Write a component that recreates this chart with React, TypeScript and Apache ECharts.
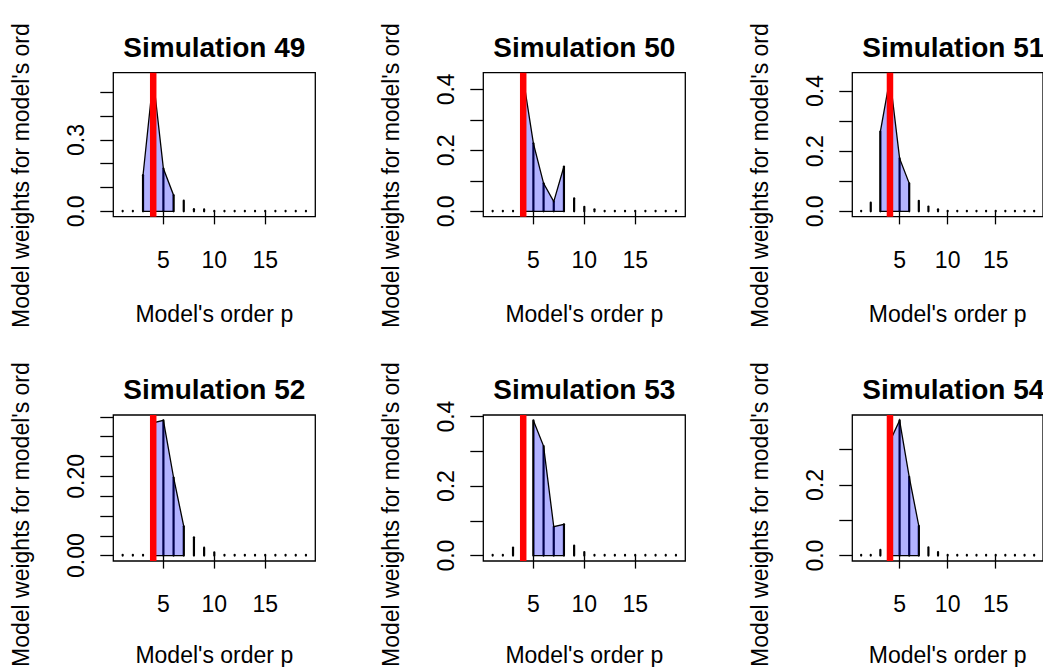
import React, { useEffect, useRef } from "react";
import * as echarts from "echarts";

// ---------- data ----------
const orders = [1, 2, 3, 4, 5, 6, 7, 8, 9, 10, 11, 12, 13, 14, 15, 16, 17, 18, 19];

const titles = [
  "Simulation 49",
  "Simulation 50",
  "Simulation 51",
  "Simulation 52",
  "Simulation 53",
  "Simulation 54",
];

const weights49 = [0.002, 0.002, 0.152, 0.56, 0.18, 0.068, 0.045, 0.009, 0.008, 0.002, 0.002, 0.002, 0.002, 0.002, 0.002, 0.002, 0.002, 0.002, 0.002];
const weights50 = [0.002, 0.002, 0.002, 0.437, 0.223, 0.092, 0.032, 0.147, 0.043, 0.015, 0.007, 0.002, 0.002, 0.002, 0.002, 0.002, 0.002, 0.002, 0.002];
const weights51 = [0.002, 0.029, 0.265, 0.443, 0.176, 0.093, 0.035, 0.016, 0.007, 0.002, 0.002, 0.002, 0.002, 0.002, 0.002, 0.002, 0.002, 0.002, 0.002];
const weights52 = [0.002, 0.002, 0.002, 0.335, 0.341, 0.197, 0.074, 0.046, 0.02, 0.008, 0.002, 0.002, 0.002, 0.002, 0.002, 0.002, 0.002, 0.002, 0.002];
const weights53 = [0.002, 0.002, 0.023, 0.002, 0.389, 0.315, 0.083, 0.09, 0.029, 0.01, 0.002, 0.002, 0.002, 0.002, 0.002, 0.002, 0.002, 0.002, 0.002];
const weights54 = [0.002, 0.002, 0.016, 0.324, 0.383, 0.223, 0.084, 0.023, 0.01, 0.002, 0.002, 0.002, 0.002, 0.002, 0.002, 0.002, 0.002, 0.002, 0.002];

// credible set of orders (filled polygon)
const sets = [
  [3, 6],
  [4, 8],
  [3, 6],
  [4, 7],
  [5, 8],
  [4, 7],
];

const trueOrder = 4;

const xTicks = [5, 10, 15];

const yTicks49 = [0, 0.1, 0.2, 0.3, 0.4, 0.5];
const yLabels49 = [0, 0.3];
const yTicks50 = [0, 0.1, 0.2, 0.3, 0.4];
const yLabels50 = [0, 0.2, 0.4];
const yTicks51 = [0, 0.1, 0.2, 0.3, 0.4];
const yLabels51 = [0, 0.2, 0.4];
const yTicks52 = [0, 0.05, 0.1, 0.15, 0.2, 0.25, 0.3, 0.35];
const yLabels52 = [0, 0.2];
const yTicks53 = [0, 0.1, 0.2, 0.3, 0.4];
const yLabels53 = [0, 0.2, 0.4];
const yTicks54 = [0, 0.1, 0.2, 0.3];
const yLabels54 = [0, 0.2];
const labelDecimals = [1, 1, 1, 2, 1, 1];

const xTitle = "Model's order p";
const yTitle = "Model weights for model's order p";

// ---------- layout ----------
const FONT = '"Liberation Sans", Arial, Helvetica, sans-serif';
const COL_LEFT = [113.3, 483.3, 852.3];
const ROW_TOP = [72.7, 415];
const ROW_H = [144, 146];
const BOX_W = 202;
const X_MIN = 0.08;
const X_MAX = 19.92;

function buildOption() {
  const panels = [
    { w: weights49, yt: yTicks49, yl: yLabels49 },
    { w: weights50, yt: yTicks50, yl: yLabels50 },
    { w: weights51, yt: yTicks51, yl: yLabels51 },
    { w: weights52, yt: yTicks52, yl: yLabels52 },
    { w: weights53, yt: yTicks53, yl: yLabels53 },
    { w: weights54, yt: yTicks54, yl: yLabels54 },
  ];
  const grid: any[] = [];
  const xAxis: any[] = [];
  const yAxis: any[] = [];
  const series: any[] = [];
  const graphic: any[] = [];

  panels.forEach((pn, i) => {
    const r = Math.floor(i / 3);
    const c = i % 3;
    const D = Math.max(...pn.w);
    const yMin = -0.04 * D;
    const yMax = 1.04 * D;
    const dec = labelDecimals[i];

    grid.push({
      left: COL_LEFT[c],
      top: ROW_TOP[r],
      width: BOX_W,
      height: ROW_H[r],
      show: true,
      borderColor: "#000",
      borderWidth: 1.3,
      backgroundColor: "transparent",
    });

    xAxis.push({
      type: "value",
      gridIndex: i,
      min: X_MIN,
      max: X_MAX,
      axisLine: { show: false },
      splitLine: { show: false },
      axisTick: {
        show: true,
        length: 13,
        customValues: xTicks,
        lineStyle: { color: "#000", width: 1.3 },
      },
      axisLabel: {
        customValues: xTicks,
        margin: r === 0 ? 32 : 31,
        fontSize: 23,
        fontFamily: FONT,
        color: "#000",
      },
      name: xTitle,
      nameLocation: "middle",
      nameGap: r === 0 ? 86 : 82,
      nameTextStyle: { fontSize: 23, fontFamily: FONT, color: "#000" },
    });

    yAxis.push({
      type: "value",
      gridIndex: i,
      min: yMin,
      max: yMax,
      axisLine: { show: false },
      splitLine: { show: false },
      axisTick: {
        show: true,
        length: 13,
        customValues: pn.yt,
        lineStyle: { color: "#000", width: 1.3 },
      },
      axisLabel: {
        customValues: pn.yl,
        rotate: 90,
        margin: 26,
        fontSize: 23,
        fontFamily: FONT,
        color: "#000",
        formatter: (v: number) => v.toFixed(dec),
      },
    });

    // vertical "h" lines for every order
    series.push({
      type: "custom",
      xAxisIndex: i,
      yAxisIndex: i,
      z: 2,
      data: orders.map((p, k) => [p, pn.w[k]]),
      renderItem: (params: any, api: any) => {
        const x = api.value(0);
        const y = api.value(1);
        const a = api.coord([x, 0]);
        const b = api.coord([x, y]);
        return {
          type: "line",
          shape: { x1: a[0], y1: a[1], x2: b[0], y2: b[1] },
          style: { stroke: "#000", lineWidth: 2.2, lineCap: "round" },
        };
      },
    });

    // filled polygon of the credible set
    const s = sets[i][0];
    const e = sets[i][1];
    const polyData = orders
      .map((p, k) => [p, pn.w[k]])
      .filter((d) => d[0] >= s && d[0] <= e);
    series.push({
      type: "custom",
      xAxisIndex: i,
      yAxisIndex: i,
      z: 3,
      data: polyData,
      renderItem: (params: any, api: any) => {
        if (params.dataIndex !== 0) return null;
        const n = polyData.length;
        const pts: number[][] = [];
        pts.push(api.coord([api.value(0, 0), 0]));
        for (let k = 0; k < n; k++) {
          pts.push(api.coord([api.value(0, k), api.value(1, k)]));
        }
        pts.push(api.coord([api.value(0, n - 1), 0]));
        return {
          type: "polygon",
          shape: { points: pts },
          style: {
            fill: "rgba(0,0,255,0.3)",
            stroke: "#000",
            lineWidth: 1.3,
            lineJoin: "miter",
          },
        };
      },
    });

    // red line at the true order
    series.push({
      type: "custom",
      xAxisIndex: i,
      yAxisIndex: i,
      z: 4,
      data: [[trueOrder]],
      renderItem: (params: any, api: any) => {
        const a = api.coord([api.value(0), yMin]);
        const b = api.coord([api.value(0), yMax]);
        return {
          type: "line",
          shape: { x1: a[0], y1: a[1], x2: b[0], y2: b[1] },
          style: { stroke: "#FF0000", lineWidth: 6.5, lineCap: "butt" },
        };
      },
    });

    // panel title
    graphic.push({
      type: "text",
      x: COL_LEFT[c] + BOX_W / 2,
      y: ROW_TOP[r] - 39.7,
      style: {
        text: titles[i],
        font: `bold 28px ${FONT}`,
        textAlign: "center",
        textVerticalAlign: "top",
        fill: "#000",
      },
    });

    // y-axis title (clipped by the figure region in the original)
    graphic.push({
      type: "text",
      x: COL_LEFT[c] - 92.8,
      y: Math.min(ROW_TOP[r] + 255.3, 667),
      rotation: Math.PI / 2,
      style: {
        text: yTitle,
        font: `23px ${FONT}`,
        textAlign: "left",
        textVerticalAlign: "middle",
        width: 316,
        overflow: "truncate",
        ellipsis: "",
        fill: "#000",
      },
    });
  });

  return {
    animation: false,
    backgroundColor: "#fff",
    grid,
    xAxis,
    yAxis,
    series,
    graphic,
  };
}

export default function App() {
  const ref = useRef<HTMLDivElement>(null);
  useEffect(() => {
    if (!ref.current) return;
    const chart = echarts.init(ref.current, null, { renderer: "svg" });
    chart.setOption(buildOption() as any);
    return () => chart.dispose();
  }, []);
  return (
    <div
      ref={ref}
      style={{ position: "absolute", left: 0, top: 0, width: 1043, height: 667 }}
    />
  );
}
